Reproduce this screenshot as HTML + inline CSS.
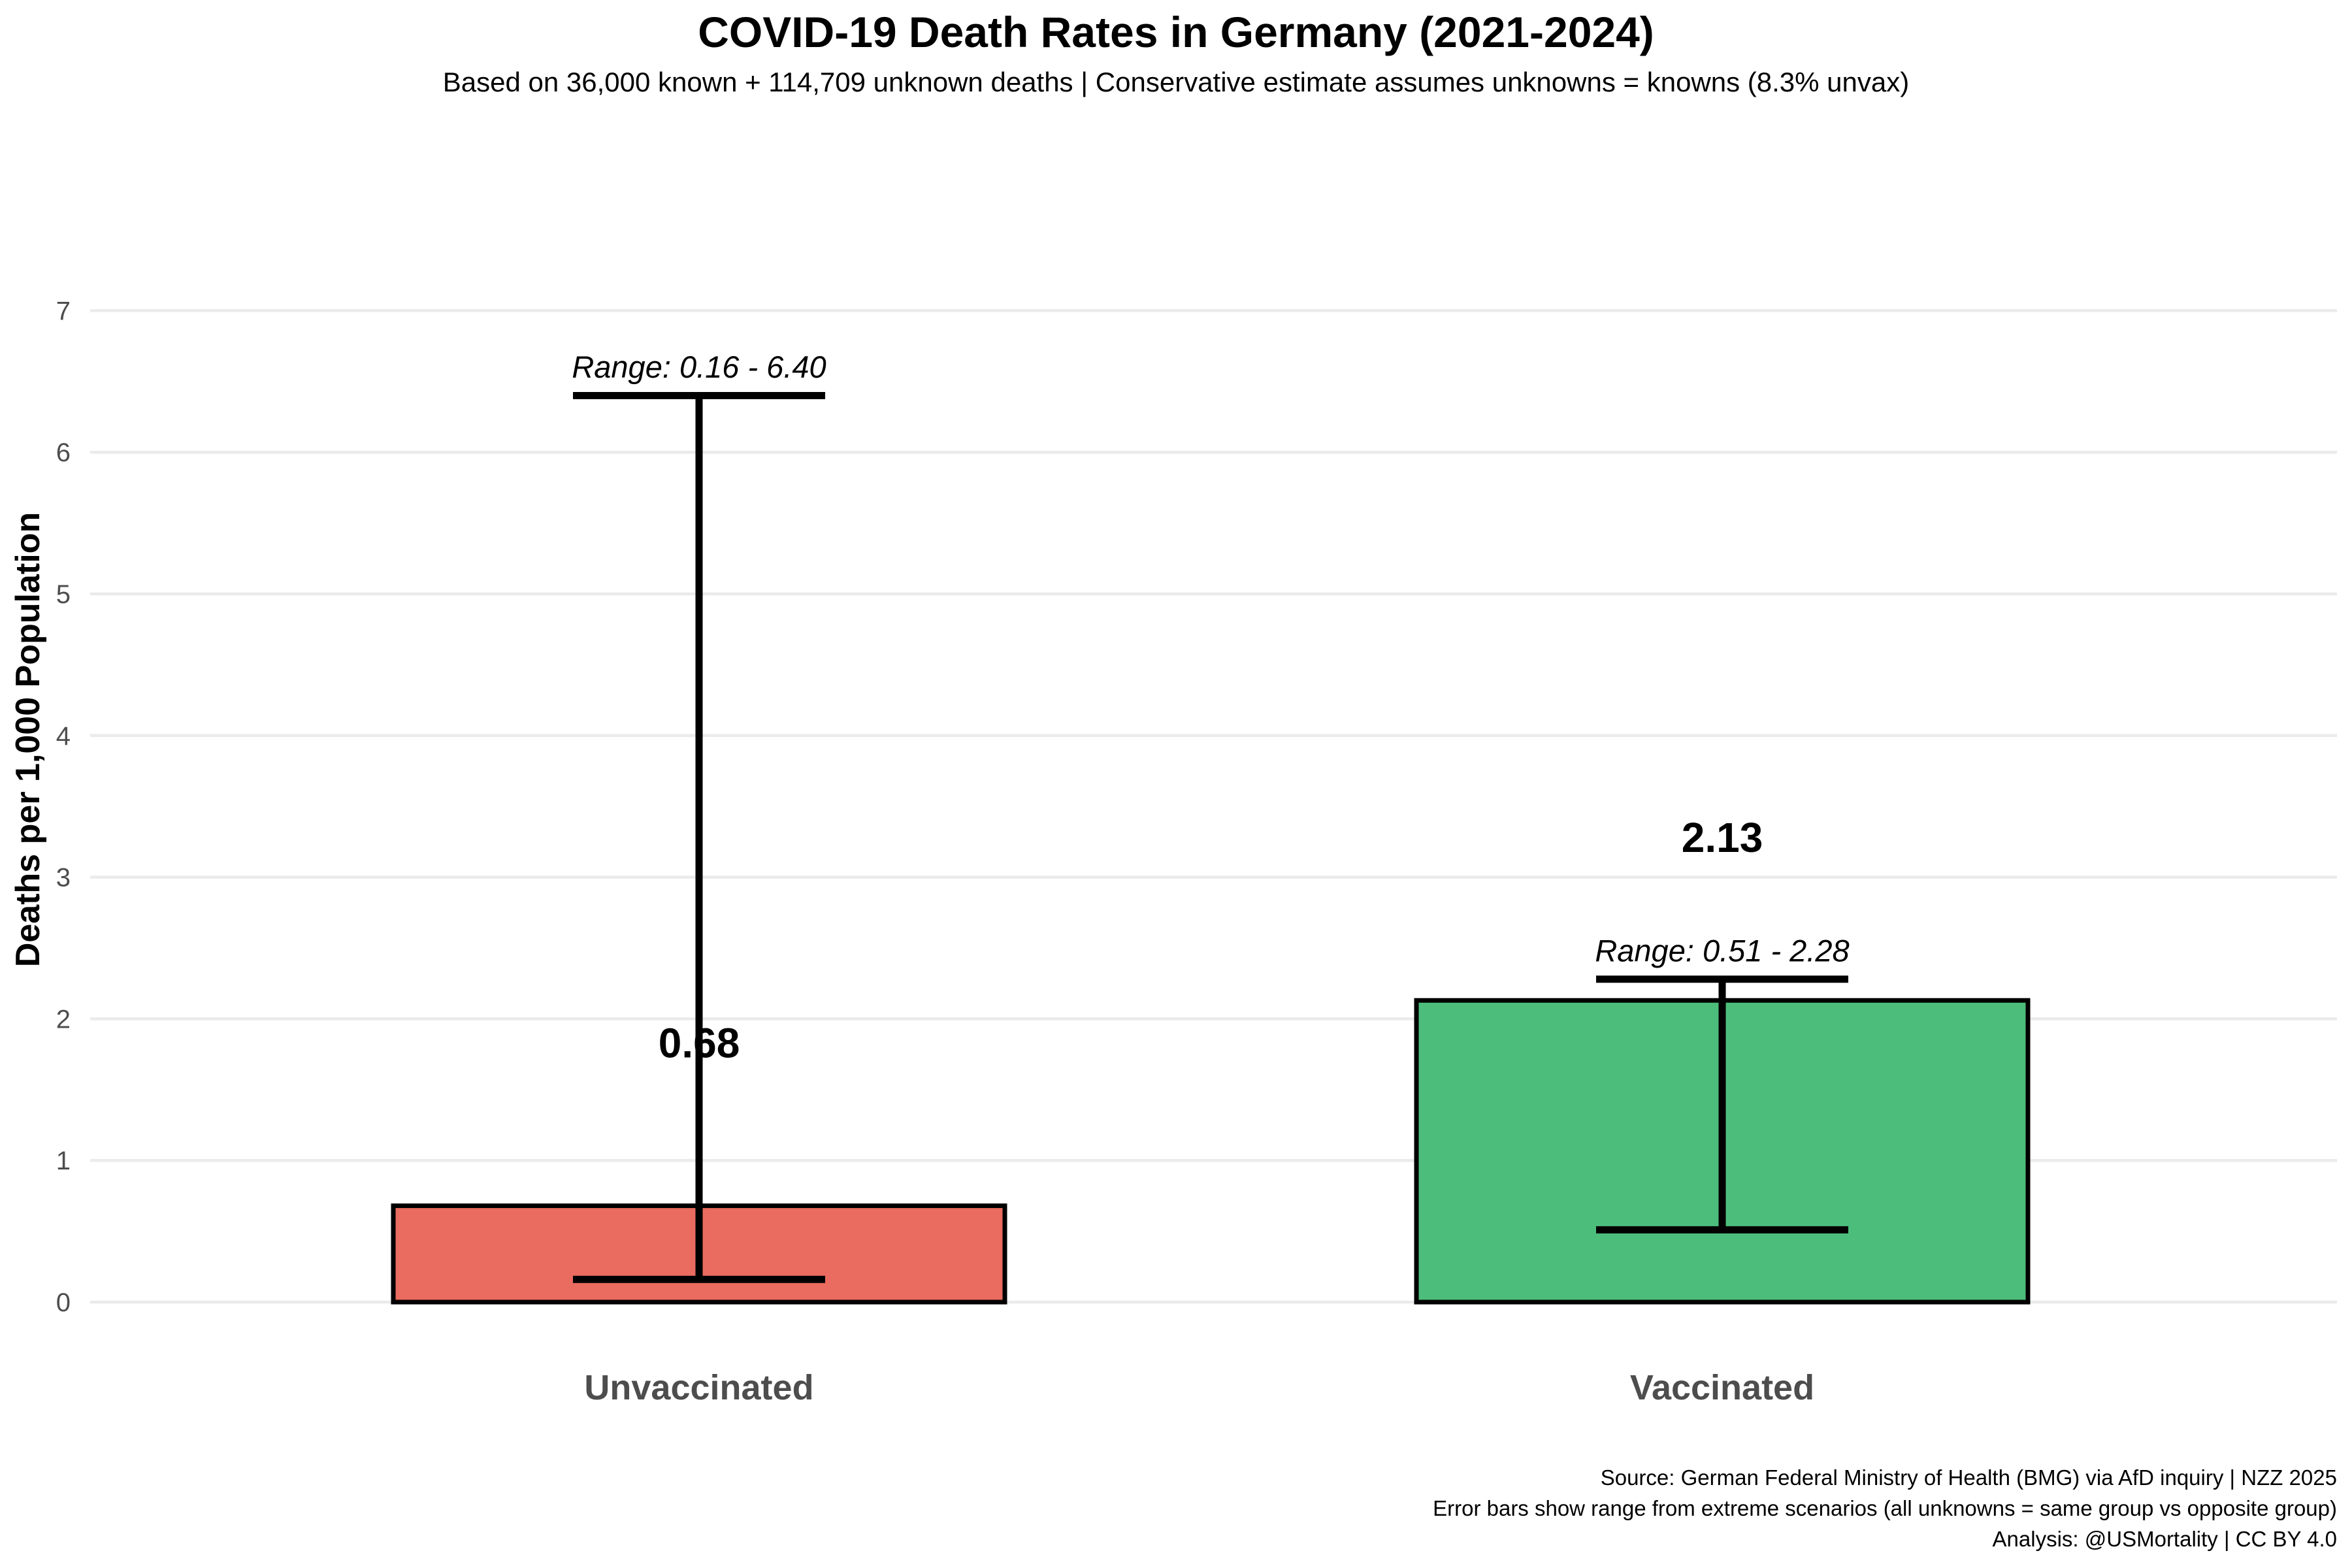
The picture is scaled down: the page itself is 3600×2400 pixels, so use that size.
<!DOCTYPE html>
<html><head><meta charset="utf-8"><style>
body{margin:0;background:#fff}
svg{display:block;font-family:"Liberation Sans",sans-serif}
</style></head><body>
<svg id="chart" width="3600" height="2400" viewBox="0 0 3600 2400">
<rect width="3600" height="2400" fill="#fff"/>
<text x="1800" y="72" text-anchor="middle" font-size="66" font-weight="bold">COVID-19 Death Rates in Germany (2021-2024)</text>
<text x="1800" y="140" text-anchor="middle" font-size="42">Based on 36,000 known + 114,709 unknown deaths | Conservative estimate assumes unknowns = knowns (8.3% unvax)</text>
<g id="grid"></g>
<g id="yticks"></g>
<text transform="translate(60,1132) rotate(-90)" text-anchor="middle" font-size="52" font-weight="bold">Deaths per 1,000 Population</text>
<g id="marks"></g>
<g font-size="33" text-anchor="end">
<text x="3577" y="2273">Source: German Federal Ministry of Health (BMG) via AfD inquiry | NZZ 2025</text>
<text x="3577" y="2320">Error bars show range from extreme scenarios (all unknowns = same group vs opposite group)</text>
<text x="3577" y="2367">Analysis: @USMortality | CC BY 4.0</text>
</g>
</svg>
<script>
const categories = ["Unvaccinated", "Vaccinated"];
const rates = [0.68, 2.13];
const lowers = [0.16, 0.51];
const uppers = [6.40, 2.28];
const yTicks = [0, 1, 2, 3, 4, 5, 6, 7];
const colors = ["#ea6b5f", "#4dbd7c"];
const NS = "http://www.w3.org/2000/svg";
const y = v => 1993 - v * 216.8;
const xc = i => 1070 + i * 1566;
function mk(tag, attrs, parent, text){
  const e = document.createElementNS(NS, tag);
  for (const k in attrs) e.setAttribute(k, attrs[k]);
  if (text !== undefined) e.textContent = text;
  parent.appendChild(e); return e;
}
const grid = document.getElementById('grid'), yt = document.getElementById('yticks'), marks = document.getElementById('marks');
yTicks.forEach(t => {
  const l = mk('line', {x1:138, x2:3577, y1:y(t), y2:y(t), stroke:'#ebebeb', 'stroke-width':4.5}, grid);
  
  
  const tx = mk('text', {x:108, y:y(t)+14, 'text-anchor':'end', 'font-size':40, fill:'#4d4d4d'}, yt, String(t));
  
  
});
categories.forEach((c, i) => {
  const cx = xc(i), hw = 468;
  const b = mk('rect', {x:cx-hw, y:y(rates[i]), width:hw*2, height:y(0)-y(rates[i]), fill:colors[i], stroke:'#000', 'stroke-width':7}, marks);
  
  
  const g = mk('g', {stroke:'#000', 'stroke-width':11}, marks);
  
  
  mk('line', {x1:cx, x2:cx, y1:y(lowers[i]), y2:y(uppers[i])}, g);
  mk('line', {x1:cx-193, x2:cx+193, y1:y(lowers[i]), y2:y(lowers[i])}, g);
  mk('line', {x1:cx-193, x2:cx+193, y1:y(uppers[i]), y2:y(uppers[i])}, g);
  const r = mk('text', {x:cx, y:y(uppers[i]+0.2)+16, 'text-anchor':'middle', 'font-size':47, 'font-style':'italic'}, marks, 'Range: ' + lowers[i].toFixed(2) + ' - ' + uppers[i].toFixed(2));
  
  
  const v = mk('text', {x:cx, y:y(rates[i]+1.15)+22, 'text-anchor':'middle', 'font-size':64, 'font-weight':'bold'}, marks, rates[i].toFixed(2));
  
  
  const cl = mk('text', {x:cx, y:2142, 'text-anchor':'middle', 'font-size':54, 'font-weight':'bold', fill:'#4d4d4d'}, marks, c);
  
  
});
</script>
</body></html>
